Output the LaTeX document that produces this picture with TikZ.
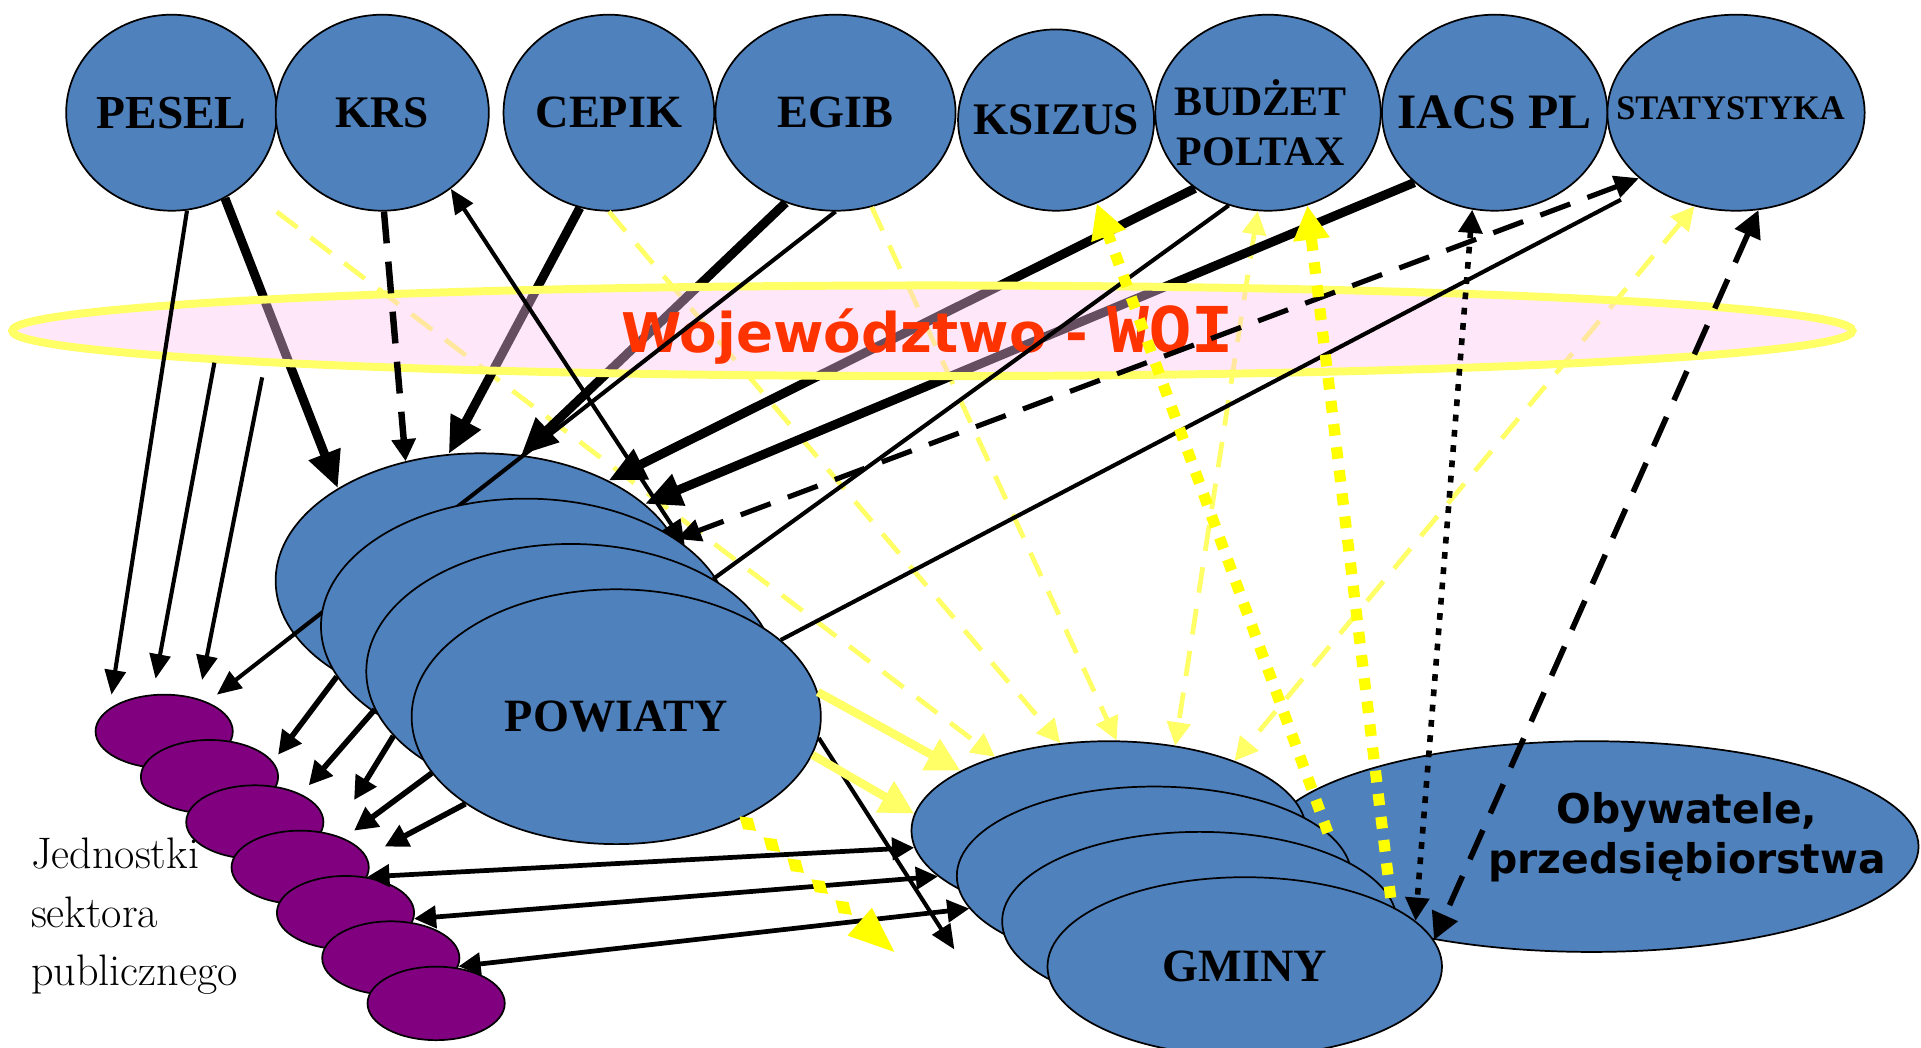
\documentclass[tikz,border=0pt]{standalone}
\usepackage{fontspec}
\newfontfamily\szeryf{Liberation Serif}
\newfontfamily\bezszeryf{DejaVu Sans}
\newfontfamily\maszyna{Liberation Mono}
\usetikzlibrary{shapes,arrows.meta,decorations.markings}
\definecolor{niebieski}{RGB}{79,129,189}
\definecolor{fiolet}{RGB}{128,0,128}
\definecolor{jasnozolty}{RGB}{255,255,102}
\definecolor{zolty}{RGB}{255,255,0}
\definecolor{rozowy}{RGB}{255,196,243}
\definecolor{czerwony}{RGB}{255,51,0}
\tikzstyle{baza} = [ellipse, draw, line width=0.8pt, fill=niebieski, inner sep=0pt, minimum width=34.4mm, minimum height=32mm]
\tikzstyle{powiat} = [baza, minimum width=66.8mm, minimum height=41.6mm]
\tikzstyle{gmina} = [baza, minimum width=64.4mm, minimum height=29.2mm]
\tikzstyle{jednostka} = [ellipse, draw, line width=0.8pt, fill=fiolet, inner sep=0pt, minimum width=22.4mm, minimum height=12mm]
\tikzstyle{napis} = [inner sep=0pt, align=center, font=\szeryf\bfseries]
\tikzstyle{line} = [draw, line width=1.9pt, -{Triangle[length=4mm,width=3.4mm]}]
\tikzstyle{line2} = [line, {Triangle[length=4mm,width=3.4mm]}-{Triangle[length=4mm,width=3.4mm]}]
\tikzstyle{cienka} = [draw, line width=1.9pt]
\tikzstyle{gruba} = [draw, line width=4.2pt, -{Triangle[length=6mm,width=5.2mm]}]
\tikzstyle{srednia} = [draw, line width=2.6pt, -{Triangle[length=3.8mm,width=3.8mm]}]
\tikzstyle{obie} = [draw, line width=2.2pt, {Triangle[length=3.6mm,width=3.6mm]}-{Triangle[length=3.6mm,width=3.6mm]}]
\tikzstyle{kreski} = [draw, line width=2.4pt, dash pattern=on 5.2mm off 3mm]
\tikzstyle{kropki} = [draw, line width=2.6pt, dash pattern=on 1.1mm off 1.4mm]
\tikzstyle{zolte} = [draw=jasnozolty, line width=2.2pt, dash pattern=on 4.2mm off 2.7mm, -{Triangle[length=3.8mm,width=3.8mm]}]
\tikzstyle{zolte2} = [zolte, {Triangle[length=3.8mm,width=3.8mm]}-{Triangle[length=3.8mm,width=3.8mm]}]
\tikzstyle{zoltekropki} = [draw=zolty, line width=5.2pt, dash pattern=on 1.9mm off 1.9mm, -{Triangle[length=5.6mm,width=5.6mm]}]
\tikzstyle{jasna} = [draw=jasnozolty, line width=3.9pt, -{Triangle[length=5.5mm,width=5.5mm]}]
\tikzstyle{romby} = [postaction={decorate}, decoration={markings,
  mark=between positions 0.04 and 0.72 step 5.2mm with {\fill[zolty] (-1.8mm,0) -- (0,1.2mm) -- (1.8mm,0) -- (0,-1.2mm) -- cycle;},
  mark=at position 1 with {\arrow[zolty]{Triangle[length=7.5mm,width=6mm]}}}]

\begin{document}
\begin{tikzpicture}[x=0.2mm, y=-0.2mm]
		\useasboundingbox (0,0) rectangle (1568,855);

		\node [baza, label={[napis]center:\fontsize{22}{26}\selectfont PESEL}] (pesel) at (140,92) {};
		\node [baza, minimum width=34.8mm, label={[napis]center:\fontsize{21}{25}\selectfont KRS}] (krs) at (312,92) {};
		\node [baza, label={[napis]center:\fontsize{21.5}{26}\selectfont CEPIK}] (cepik) at (497,92) {};
		\node [baza, minimum width=39.2mm, label={[napis]center:\fontsize{21.5}{26}\selectfont EGIB}] (egib) at (682,92) {};
		\node [baza, minimum width=32mm, minimum height=29.6mm, label={[napis]center:\fontsize{21}{25}\selectfont KSIZUS}] (ksizus) at (862,98) {};
		\node [baza, minimum width=36.8mm, label={[napis, font=\szeryf\bfseries\fontsize{19.5}{23.2}\selectfont, xshift=-1.2mm, yshift=-1.6mm]center:{BUDŻET\\POLTAX}}] (budzet) at (1035,92) {};
		\node [baza, minimum width=36.8mm, label={[napis]center:\fontsize{23}{27}\selectfont IACS PL}] (iacs) at (1220,92) {};
		\node [baza, minimum width=42mm, label={[napis, xshift=-0.9mm, yshift=0.8mm]center:\fontsize{16}{19}\selectfont STATYSTYKA}] (stat) at (1417,92) {};

		\node [baza, minimum width=106.8mm, minimum height=34.4mm] (oby) at (1299,691) {};
		\node [inner sep=0pt, align=center, font=\bezszeryf\bfseries\fontsize{19}{23.2}\selectfont] (oby-napis) at (1377,683) {Obywatele,\\przedsiębiorstwa};
		\node [gmina] (gm1) at (905,678) {};
		\node [gmina] (gm2) at (942,715) {};
		\node [gmina] (gm3) at (979,752) {};
		\node [gmina, label={[napis]center:\fontsize{21.5}{26}\selectfont GMINY}] (gm4) at (1016,789) {};

		\node [powiat] (pow1) at (392,474) {};

		\node [jednostka] (jed1) at (134,597) {};
		\node [jednostka] (jed2) at (171,634) {};
		\node [jednostka] (jed3) at (208,671) {};
		\node [jednostka] (jed4) at (245,708) {};
		\node [jednostka] (jed5) at (282,745) {};
		\node [jednostka] (jed6) at (319,782) {};
		\node [jednostka] (jed7) at (356,819) {};
		\node [anchor=west, align=left, inner sep=0pt, font=\fontsize{20.5}{27.2}\selectfont] (jed-napis) at (25,748) {Jednostki\\sektora\\publicznego};

		\coordinate (pesel-krs) at (226,173);
		\coordinate (cel-pesel) at (91,567);
		\coordinate (cel-woj-1) at (127,554);
		\coordinate (cel-woj-2) at (165,555);
		\coordinate (cel-egib) at (177,567);
		\coordinate (cel-pow-1) at (227,616);
		\coordinate (cel-pow-2) at (252,641);
		\coordinate (cel-pow-3) at (289,653);
		\coordinate (cel-pow-4) at (289,678);
		\coordinate (cel-pow-5) at (314,691);
		\coordinate (cel-gminy) at (779,775);
		\coordinate (koniec-stat) at (1323,163);
		\coordinate (cel-romby) at (730,777);

		\path [zolte] (pesel-krs) -- (gm1.147.1);
		\path [zolte] (cepik.-90) -- (gm1.119.4);
		\path [zolte] (egib.-69.8) -- (gm1.85);
		\path [zolte2] (budzet.-96.3) -- (gm1.52.6);
		\path [zolte2] (stat.-114.9) -- (gm1.29.1);
		\path [gruba] (pesel.-58) -- (pow1.147.3);
		\path [gruba] (cepik.253.7) -- (pow1.104.2);
		\path [gruba] (egib.241.8) -- (pow1.72.6);
		\path [gruba] (budzet.226.5) -- (pow1.38.5);
		\path [gruba] (iacs.221.8) -- (pow1.25.3);

		\node [ellipse, draw=jasnozolty, line width=1.3mm, fill=rozowy, fill opacity=0.4, inner sep=0pt, minimum width=300.4mm, minimum height=14.8mm] (woj) at (761,270) {};
		\node [anchor=base west, inner sep=0pt, text=czerwony, font=\bezszeryf\bfseries\fontsize{25.4}{30}\selectfont] (woj-napis) at (507,288) {Województwo - {\maszyna\fontsize{32.5}{36}\selectfont WOI}};
		\path (woj.center) ++(-586,26) coordinate (woj-1);
		\path (woj.center) ++(-547,38) coordinate (woj-2);

		\path [line] (egib.-90.7) -- (cel-egib);
		\node [powiat] (pow2) at (429,511) {};
		\node [powiat] (pow3) at (466,548) {};
		\node [powiat, label={[napis]center:\fontsize{21.5}{26}\selectfont POWIATY}] (pow4) at (503,585) {};

		\path [line] (pesel.-81.6) -- (cel-pesel);
		\path [line] (woj-1) -- (cel-woj-1);
		\path [line] (woj-2) -- (cel-woj-2);
		\path [line2] (krs.-48.7) -- (pow2.27.4);
		\path [kreski, line width=3pt, -{Triangle[length=3.6mm,width=3.8mm]}] (krs.-89) -- (pow1.122.9);
		\path [kreski, {Triangle[length=4mm,width=3.6mm]}-{Triangle[length=4mm,width=3.6mm]}] (stat.214) -- (pow2.30.4);
		\path [cienka] (budzet.247.8) -- (pow3.33.6);
		\path [cienka] (pow4.25.7) -- (koniec-stat);
		\path [srednia] (pow2.195.9) -- (cel-pow-1);
		\path [srednia] (pow3.191.4) -- (cel-pow-2);
		\path [srednia] (pow3.200.2) -- (cel-pow-3);
		\path [srednia] (pow4.197.9) -- (cel-pow-4);
		\path [srednia] (pow4.210.5) -- (cel-pow-5);
		\path [obie] (jed4.-8) -- (gm1.185);
		\path [obie] (jed5.-5.9) -- (gm1.195.5);
		\path [obie] (jed6.-7) -- (gm2.190.1);
		\path [line] (pow4.-6.5) -- (cel-gminy);
		\path [jasna] (pow4.7.6) -- (gm1.158.1);
		\path [jasna] (pow4.-11.5) -- (gm1.175);
		\path [romby] (pow4.-39.4) -- (cel-romby);
		\path [zoltekropki] (gm2.14.7) -- (ksizus.-64);
		\path [zoltekropki] (gm3.7.2) -- (budzet.-67.5);
		\path [kropki, {Triangle[length=3.8mm,width=3.8mm]}-{Triangle[length=3.8mm,width=3.8mm]}] (iacs.-103.7) -- (gm4.15.3);
		\path [kreski, line width=2.6pt, {Triangle[length=4.4mm,width=4.4mm]}-{Triangle[length=4.4mm,width=4.4mm]}] (stat.-77.3) -- (gm4.8.2);
	\end{tikzpicture}
\end{document}
